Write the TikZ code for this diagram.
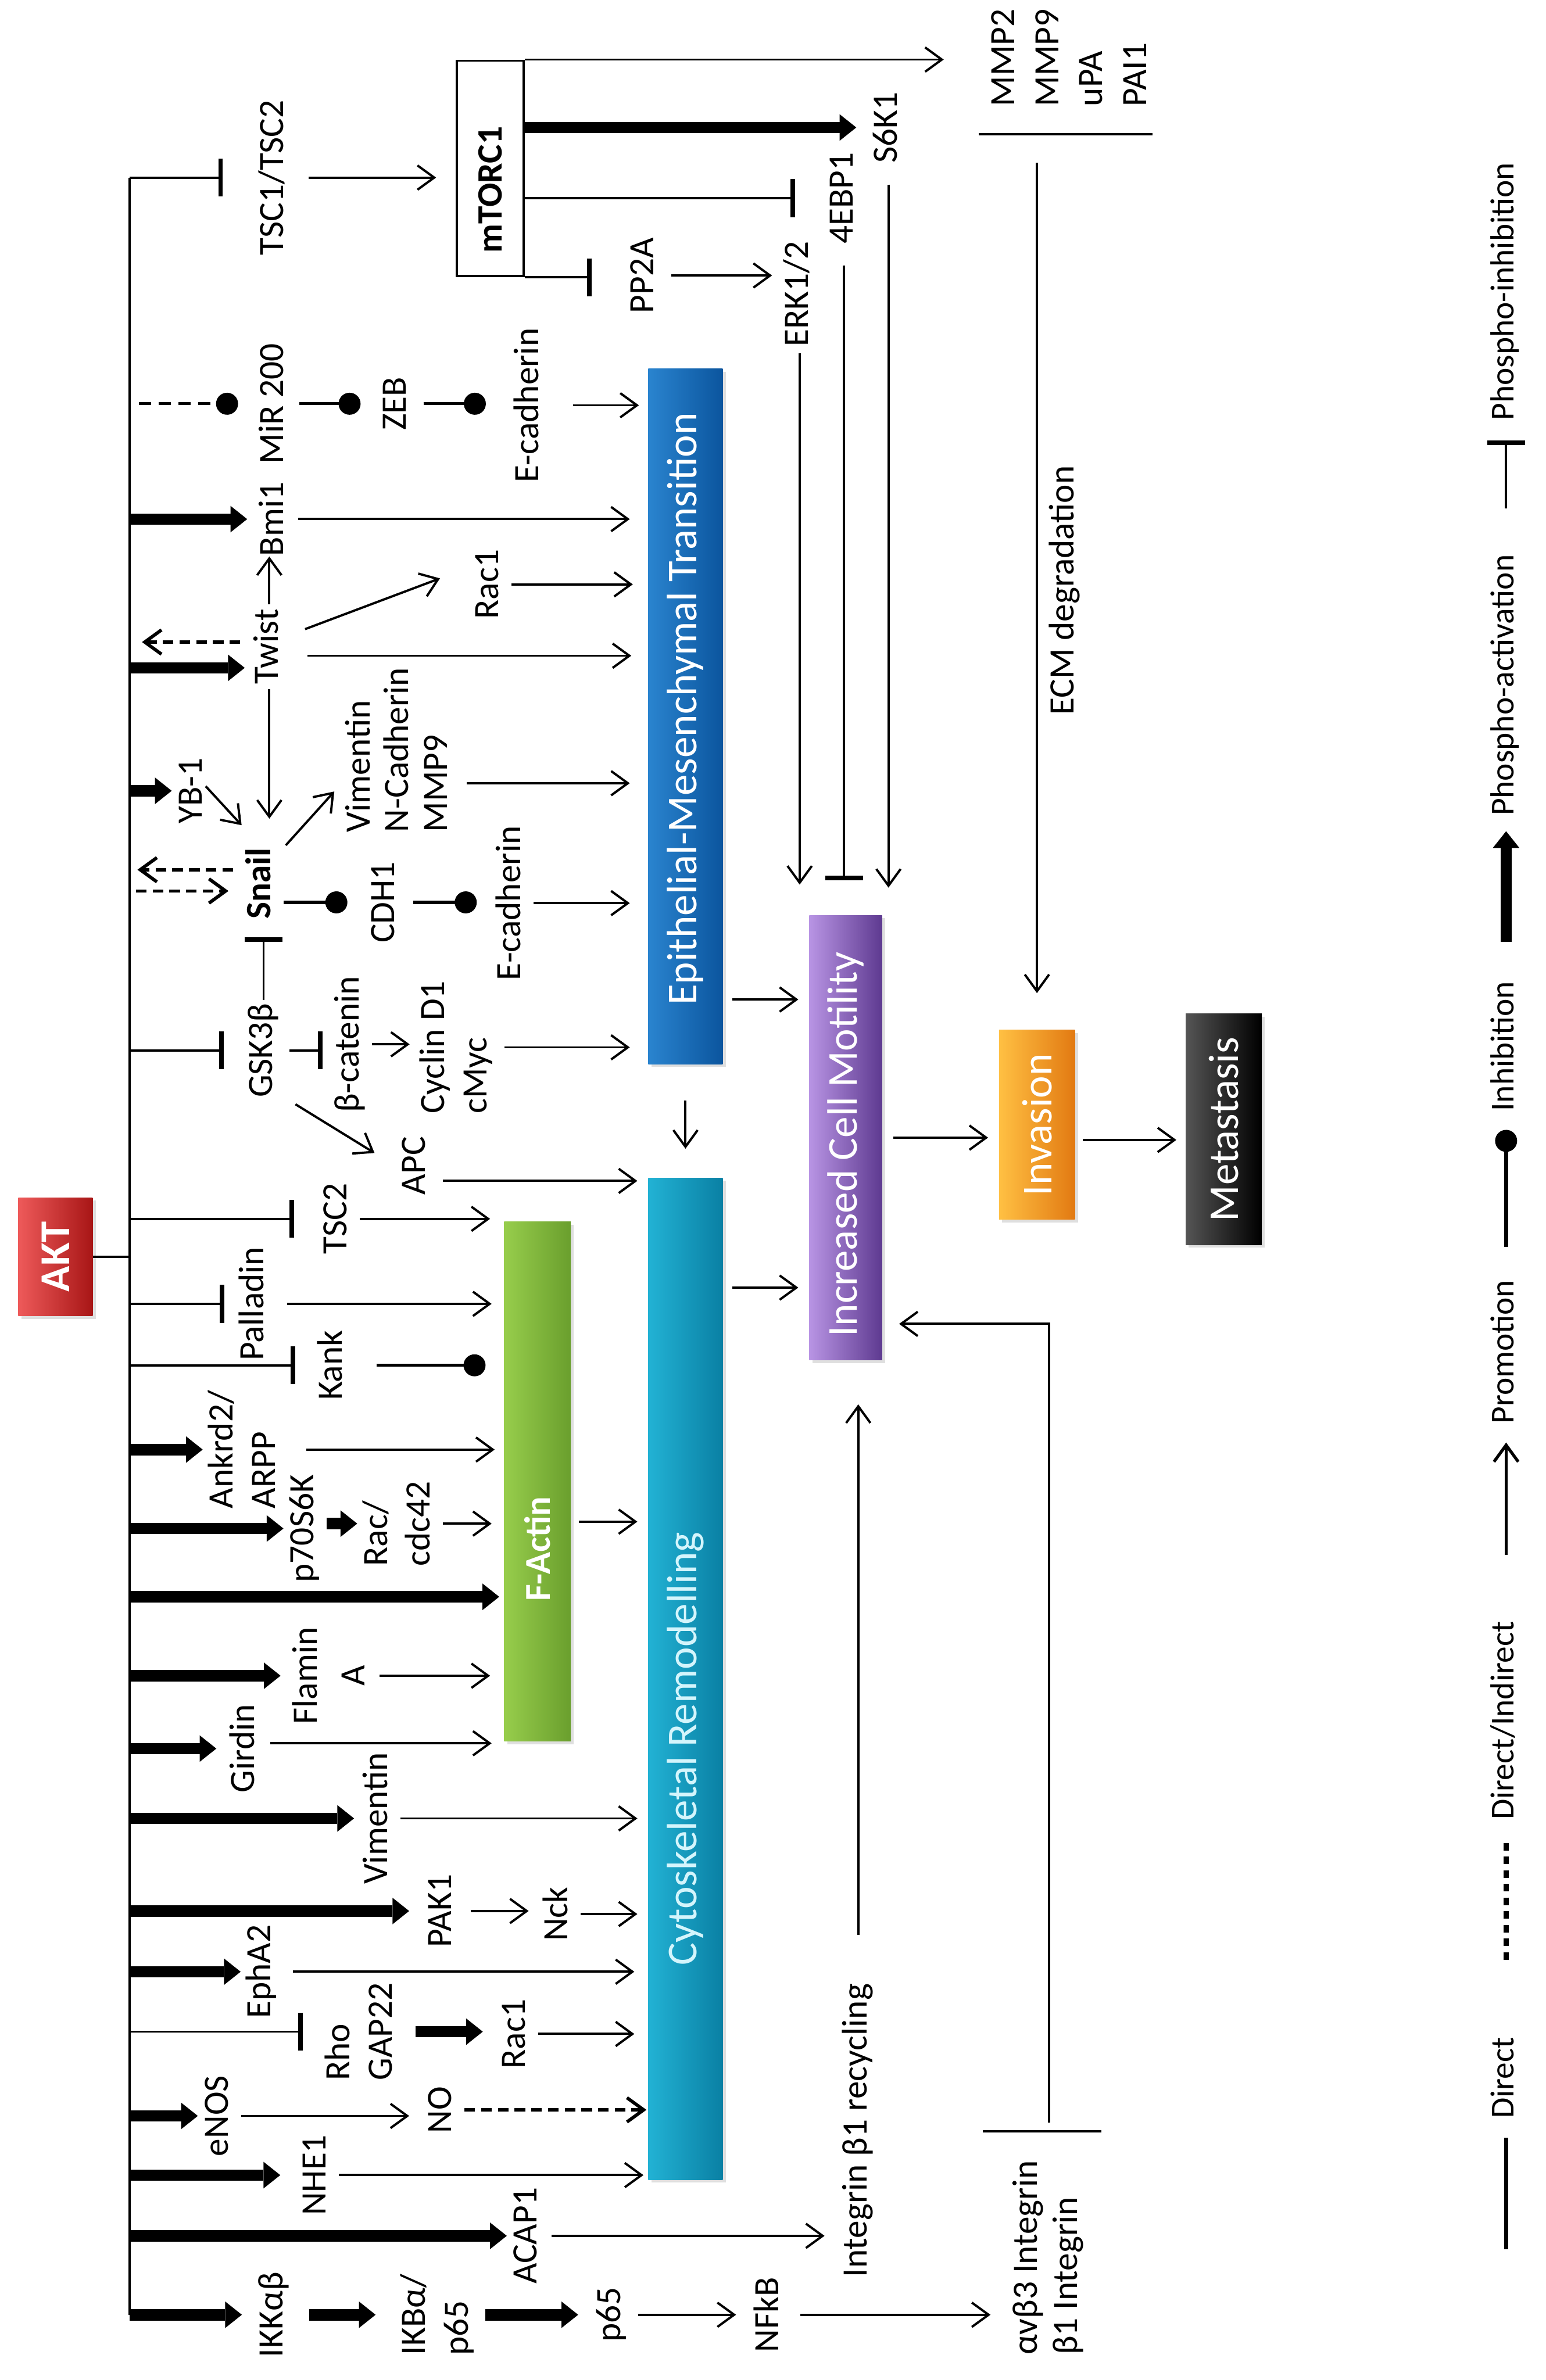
\documentclass[tikz,border=0pt]{standalone}
\usepackage{fontspec}
\usepackage{graphicx}
\usepackage{xcolor}
\setmainfont{Carlito}
\usetikzlibrary{arrows.meta, positioning, calc, shadows}

\definecolor{aktL}{HTML}{EE5A5A}
\definecolor{aktM}{HTML}{D62828}
\definecolor{aktR}{HTML}{A81616}
\definecolor{emtL}{HTML}{2A84CF}
\definecolor{emtM}{HTML}{1468B5}
\definecolor{emtR}{HTML}{0B559E}
\definecolor{cytL}{HTML}{22B2D4}
\definecolor{cytM}{HTML}{12A0C4}
\definecolor{cytR}{HTML}{0A80A4}
\definecolor{cytT}{HTML}{D4F5FC}
\definecolor{facL}{HTML}{97CD4C}
\definecolor{facM}{HTML}{86BE3C}
\definecolor{facR}{HTML}{6A9F2D}
\definecolor{motL}{HTML}{B894E4}
\definecolor{motM}{HTML}{7D53B5}
\definecolor{motR}{HTML}{5E3A90}
\definecolor{invL}{HTML}{FFC043}
\definecolor{invM}{HTML}{F8931F}
\definecolor{invR}{HTML}{E27A12}
\definecolor{metL}{HTML}{555555}
\definecolor{metM}{HTML}{0A0A0A}
\definecolor{metR}{HTML}{000000}

\newcommand{\lblfont}{\fontsize{23.5}{28}\selectfont}
\newcommand{\stagefont}{\fontsize{28}{32}\selectfont}
\newcommand{\legfont}{\fontsize{22}{26}\selectfont}
\newcommand{\uptext}[1]{\rotatebox{90}{\strut #1}}
\newcommand{\uplines}[2][l]{\rotatebox{90}{\begin{tabular}{@{}#1@{}}#2\end{tabular}}}

\tikzstyle{lbl} = [inner sep=0pt, font=\lblfont]
\tikzstyle{legtext} = [inner sep=0pt, font=\legfont]
\tikzstyle{stage} = [rectangle, inner sep=0pt, text=white, font=\stagefont, drop shadow={shadow xshift=2pt, shadow yshift=-2pt, opacity=0.25}]
\tikzstyle{conn} = [line width=1.5pt]
\tikzstyle{promo} = [line width=1.5pt, -{Straight Barb[length=11pt,width=16pt]}]
\tikzstyle{dpromo} = [line width=2.2pt, dash pattern=on 7pt off 4pt, -{Straight Barb[length=11pt,width=16pt]}]
\tikzstyle{phos} = [line width=7.5pt, -{Triangle[length=11pt,width=17.5pt,line width=0pt]}]
\tikzstyle{inh} = [line width=1.5pt, -{Bar[width=25pt,line width=3pt]}]
\tikzstyle{cinh} = [line width=2pt, -{Circle[length=14.5pt]}]
\tikzstyle{dcinh} = [cinh, dash pattern=on 8pt off 5pt]

\begin{document}
\begin{tikzpicture}[x=1pt, y=1pt]
    \useasboundingbox (0,0) rectangle (1018,-1568);

        % Nodes
        \node (akt) [stage, minimum width=49pt, minimum height=78pt, left color=aktL, middle color=aktM, right color=aktR, font=\stagefont\bfseries] at (36.5,-828) {\rotatebox{90}{AKT}};
        \node (tsc12) [lbl] at (181,-117) {\uptext{TSC1/TSC2}};
        \node (mtorc) [draw, line width=1.5pt, fill=white, inner sep=0pt, minimum width=44pt, minimum height=142pt, font=\lblfont\bfseries] at (323,-111) {\rotatebox{90}{\hspace*{-28pt}mTORC1}};
        \node (mmp) [lbl, font=\fontsize{23.5}{29}\selectfont] at (705.8,-38) {\uplines{MMP2\\MMP9\\uPA\\PAI1}};
        \node (s6k) [lbl] at (585.2,-84) {\uptext{S6K1}};
        \node (ebp) [lbl] at (556,-130.5) {\uptext{4EBP1}};
        \node (pp2a) [lbl] at (424.8,-181.5) {\uptext{PP2A}};
        \node (erk) [lbl] at (526.7,-193.7) {\uptext{ERK1/2}};
        \node (ecm) [lbl] at (701.7,-389) {\uptext{ECM degradation}};
        \node (mir) [lbl] at (181,-266) {\uptext{MiR 200}};
        \node (zeb) [lbl] at (261.7,-266) {\uptext{ZEB}};
        \node (ecad1) [lbl] at (349.2,-267) {\uptext{E-cadherin}};
        \node (bmi) [lbl] at (181,-342) {\uptext{Bmi1}};
        \node (rac1a) [lbl] at (322.7,-385) {\uptext{Rac1}};
        \node (twist) [lbl] at (177.4,-426) {\uptext{Twist}};
        \node (yb1) [lbl] at (127.3,-521) {\uptext{YB-1}};
        \node (snail) [lbl, font=\lblfont\bfseries] at (172.7,-582) {\uptext{Snail}};
        \node (vimb) [lbl, font=\fontsize{23.5}{25.5}\selectfont] at (264,-494) {\uplines{Vimentin\\N-Cadherin\\MMP9}};
        \node (cdh1) [lbl] at (254,-594.5) {\uptext{CDH1}};
        \node (ecad2) [lbl] at (337.2,-595) {\uptext{E-cadherin}};
        \node (gsk) [lbl] at (173.6,-692) {\uptext{GSK3β}};
        \node (bcat) [lbl] at (230.7,-688) {\uptext{β-catenin}};
        \node (cyc) [lbl] at (301,-690) {\uplines{Cyclin D1\\cMyc}};
        \node (apc) [lbl] at (274.5,-768) {\uptext{APC}};
        \node (tsc2) [lbl] at (222.8,-803) {\uptext{TSC2}};
        \node (pall) [lbl] at (168,-859) {\uptext{Palladin}};
        \node (kank) [lbl] at (219.7,-899.5) {\uptext{Kank}};
        \node (ankrd) [lbl] at (161.7,-955) {\uplines{Ankrd2/\\ARPP}};
        \node (p70) [lbl] at (200.9,-1007) {\uptext{p70S6K}};
        \node (racc) [lbl] at (263.5,-1003.8) {\uplines{Rac/\\cdc42}};
        \node (flam) [lbl, font=\fontsize{23.5}{31.4}\selectfont] at (218.4,-1104) {\uplines[c]{Flamin\\A}};
        \node (gird) [lbl] at (161.7,-1152) {\uptext{Girdin}};
        \node (vim2) [lbl] at (249.4,-1198) {\uptext{Vimentin}};
        \node (pak) [lbl] at (291.7,-1259) {\uptext{PAK1}};
        \node (nck) [lbl] at (368.4,-1261) {\uptext{Nck}};
        \node (epha) [lbl] at (172.7,-1299) {\uptext{EphA2}};
        \node (rhog) [lbl] at (238.5,-1338.5) {\uplines{Rho\\GAP22}};
        \node (rac1b) [lbl] at (340.2,-1340) {\uptext{Rac1}};
        \node (enos) [lbl] at (144.5,-1394) {\uptext{eNOS}};
        \node (nox) [lbl] at (291.7,-1390) {\uptext{NO}};
        \node (nhe) [lbl] at (208.8,-1433) {\uptext{NHE1}};
        \node (acap) [lbl] at (348,-1473) {\uptext{ACAP1}};
        \node (intr) [lbl] at (565.3,-1403.6) {\uptext{Integrin β1 recycling}};
        \node (ikk) [lbl] at (180.5,-1525) {\uptext{IKKαβ}};
        \node (ikb) [lbl] at (288.6,-1525) {\uplines{IKBα/\\p65}};
        \node (p65) [lbl] at (403,-1525) {\uptext{p65}};
        \node (nfkb) [lbl] at (507,-1525) {\uptext{NFkB}};
        \node (integ) [lbl, font=\fontsize{23.5}{26.4}\selectfont] at (691,-1487.5) {\uplines{αvβ3 Integrin\\β1 Integrin}};

        % Stages
        \node (emt) [stage, minimum width=49pt, minimum height=458pt, left color=emtL, middle color=emtM, right color=emtR] at (451.5,-472) {\rotatebox{90}{\hspace*{10pt}Epithelial-Mesenchymal Transition}};
        \node (cyto) [stage, minimum width=49pt, minimum height=660pt, left color=cytL, middle color=cytM, right color=cytR, text=cytT] at (451.5,-1106) {\rotatebox{90}{\hspace*{-92pt}Cytoskeletal Remodelling}};
        \node (factin) [stage, minimum width=44pt, minimum height=342pt, left color=facL, middle color=facM, right color=facR, font=\fontsize{24}{28}\selectfont\bfseries] at (354,-976) {\rotatebox{90}{\hspace*{-79pt}F-Actin}};
        \node (motil) [stage, minimum width=48pt, minimum height=293pt, left color=motL, middle color=motM, right color=motR] at (557,-749.5) {\rotatebox{90}{\hspace*{-9pt}Increased Cell Motility}};
        \node (invasion) [stage, minimum width=50pt, minimum height=125pt, left color=invL, middle color=invM, right color=invR] at (683,-741) {\rotatebox{90}{Invasion}};
        \node (metast) [stage, minimum width=50pt, minimum height=152pt, left color=metL, middle color=metM, right color=metR] at (806,-744) {\rotatebox{90}{Metastasis}};

        % Legend
        \node (lgpi) [legtext] at (992,-192) {\uptext{Phospho-inhibition}};
        \node (lgpa) [legtext] at (992,-451.4) {\uptext{Phospho-activation}};
        \node (lginh) [legtext] at (992,-689.3) {\uptext{Inhibition}};
        \node (lgpro) [legtext] at (992,-890.7) {\uptext{Promotion}};
        \node (lgdi) [legtext] at (992,-1133.5) {\uptext{Direct/Indirect}};
        \node (lgd) [legtext] at (992,-1368.9) {\uptext{Direct}};

        % AKT branch line
        \coordinate (bus) at (85.5,0);
        \draw [conn] (akt) -- (akt -| bus);
        \draw [conn] (bus |- tsc12) -- (bus |- ikk);

        % Arrows from AKT
        \draw [inh, shorten >=20pt] (bus |- tsc12) -- (tsc12);
        \draw [dcinh, shorten <=6pt, shorten >=10pt] (bus |- mir) -- (mir);
        \draw [phos, shorten >=4pt] (bus |- bmi) -- (bmi);
        \draw [phos, shorten >=2pt] ([yshift=-14pt]bus |- twist) -- ([yshift=-14pt]twist.west);
        \draw [dpromo, shorten <=5pt, shorten >=8pt] ([yshift=3pt]twist.west) -- ([yshift=3pt]twist.west -| bus);
        \draw [phos] (bus |- yb1) -- (yb1);
        \draw [dpromo, shorten <=4pt, shorten >=8pt] ([yshift=-5pt]bus |- snail) -- ([yshift=-5pt]snail.west);
        \draw [dpromo, shorten <=5pt, shorten >=5pt] ([yshift=9pt]snail.west) -- ([yshift=9pt]snail.west -| bus);
        \draw [inh, shorten >=12pt] (bus |- gsk) -- (gsk);
        \draw [inh, shorten >=15pt] (bus |- tsc2) -- (tsc2);
        \draw [inh, shorten >=6pt] (bus |- pall) -- (pall);
        \draw [inh, shorten >=11pt] (bus |- kank) -- (kank);
        \draw [phos] (bus |- ankrd) -- (ankrd);
        \draw [phos] (bus |- p70) -- (p70);
        \draw [phos, shorten >=3pt] ([yshift=-76pt]factin.west -| bus) -- ([yshift=-76pt]factin.west);
        \draw [phos, shorten >=2pt] (bus |- flam) -- (flam);
        \draw [phos, shorten >=5pt] (bus |- gird) -- (gird);
        \draw [phos, shorten >=2pt] (bus |- vim2) -- (vim2);
        \draw [phos, shorten >=8pt] (bus |- pak) -- (pak);
        \draw [phos] (bus |- epha) -- (epha);
        \draw [inh, shorten >=11pt] (bus |- rhog) -- (rhog);
        \draw [phos] (bus |- enos) -- (enos);
        \draw [phos, shorten >=10pt] (bus |- nhe) -- (nhe);
        \draw [phos] (bus |- acap) -- (acap);
        \draw [phos, shorten >=7pt] (bus |- ikk) -- (ikk);

        % mTORC1 arm
        \draw [promo, shorten <=8pt, shorten >=13pt] (tsc12) -- (tsc12 -| mtorc.west);
        \draw [promo, shorten >=26pt] (mtorc.north east) -- (mtorc.north east -| mmp.west);
        \draw [phos, shorten >=7pt] (mtorc.east |- s6k) -- (s6k);
        \draw [inh, shorten >=18pt] (mtorc.east |- ebp) -- (ebp);
        \draw [inh, shorten >=21pt] (mtorc.south east) -- (mtorc.south east -| pp2a.west);
        \draw [promo, shorten <=3pt, shorten >=4pt] (pp2a) -- (pp2a -| erk.west);
        \draw [promo, shorten <=4pt, shorten >=20pt] (erk.south) -- (erk.south |- motil.north);
        \draw [inh, shorten <=14pt, shorten >=23pt] (ebp.south) -- (ebp.south |- motil.north);
        \draw [promo, shorten <=14pt, shorten >=18pt] (s6k.south) -- (s6k.south |- motil.north);
        \draw [promo, shorten <=37pt, shorten >=24pt] (invasion |- mmp.south) -- (invasion);
        \draw [conn] ($(mmp.south west)+(-3,-18)$) -- ($(mmp.south east)+(-5,-18)$);

        % EMT inputs
        \draw [cinh, shorten <=2pt, shorten >=10pt] (mir) -- (mir -| zeb.west);
        \draw [cinh, shorten <=3pt, shorten >=15pt] (zeb) -- (zeb -| ecad1.west);
        \draw [promo, shorten <=14pt, shorten >=6pt] (ecad1) -- (ecad1 -| emt.west);
        \draw [promo, shorten <=1pt, shorten >=12pt] (bmi) -- (bmi -| emt.west);
        \draw [promo, shorten <=3pt] (twist.north) -- (twist.north |- bmi.south);
        \draw [promo, shorten <=10pt, shorten >=20pt] ([yshift=8pt]twist.east) -- ([yshift=11pt]rac1a.west);
        \draw [promo, shorten >=10pt] (rac1a) -- (rac1a -| emt.west);
        \draw [promo, shorten <=11pt, shorten >=11pt] ([yshift=-6pt]twist.east) -- ([yshift=-6pt]twist.east -| emt.west);
        \draw [promo, shorten <=3pt, shorten >=19pt] (twist.south) -- (twist.south |- snail.north);
        \draw [promo, shorten >=20pt] ([xshift=-6pt,yshift=3pt]yb1.east) -- (snail.north);
        \draw [promo, shorten <=2pt, shorten >=8pt] (snail.north east) -- ([yshift=-21.5pt]vimb.west);
        \draw [promo, shorten <=5pt, shorten >=12pt] ([yshift=-22pt]vimb.east) -- ([yshift=-22pt]vimb.east -| emt.west);
        \draw [cinh, shorten >=11pt] (snail.east |- cdh1) -- (cdh1);
        \draw [cinh, shorten <=4pt, shorten >=9pt] (cdh1) -- (cdh1 -| ecad2.west);
        \draw [promo, shorten >=12pt] (ecad2) -- (ecad2 -| emt.west);
        \draw [inh, shorten <=2pt, shorten >=12pt] (gsk.north) -- (gsk.north |- snail.south);
        \draw [inh, shorten <=3pt, shorten >=4pt] (gsk) -- (gsk -| bcat.west);
        \draw [promo, shorten >=3pt] (bcat) -- (bcat -| cyc.west);
        \draw [promo, shorten <=3pt, shorten >=12pt] (cyc) -- (cyc -| emt.west);
        \draw [promo, shorten <=8pt, shorten >=16pt] (gsk.south east) -- (apc.west);
        \draw [promo, shorten <=3pt, shorten >=7pt] ([yshift=-10pt]apc.east) -- ([yshift=-10pt]apc.east -| cyto.west);

        % F-Actin inputs
        \draw [promo, shorten >=9pt] (tsc2) -- (tsc2 -| factin.west);
        \draw [promo, shorten <=7pt, shorten >=8pt] (pall) -- (pall -| factin.west);
        \draw [cinh, shorten <=14pt, shorten >=12pt] (kank) -- (kank -| factin.west);
        \draw [promo, shorten <=12pt, shorten >=6pt] (ankrd) -- (ankrd -| factin.west);
        \draw [phos] (racc -| p70.east) -- (racc.west);
        \draw [promo, shorten >=8pt] (racc) -- (racc -| factin.west);
        \draw [promo, shorten >=9pt] (flam) -- (flam -| factin.west);
        \draw [promo, shorten <=2pt, shorten >=8pt] ([yshift=3.5pt]gird.east) -- ([yshift=3.5pt]gird.east -| factin.west);

        % Cytoskeletal inputs
        \draw [promo, shorten >=7pt] (vim2) -- (vim2 -| cyto.west);
        \draw [promo, shorten <=4pt, shorten >=6pt] (pak) -- (pak -| nck.west);
        \draw [promo, shorten >=7pt] (nck) -- (nck -| cyto.west);
        \draw [promo, shorten <=6pt, shorten >=9pt] (epha) -- (epha -| cyto.west);
        \draw [phos, shorten <=7pt, shorten >=8pt] (rhog) -- (rhog -| rac1b.west);
        \draw [promo, shorten >=9pt] (rac1b) -- (rac1b -| cyto.west);
        \draw [promo, shorten >=8pt] (enos) -- (enos -| nox.west);
        \draw [dpromo, shorten >=1pt] (nox) -- (nox -| cyto.west);
        \draw [promo, shorten >=3pt] (nhe) -- (nhe -| cyto.west);
        \draw [promo, shorten <=1pt, shorten >=8pt] (acap) -- (acap -| intr.west);
        \draw [promo, shorten <=32pt, shorten >=29pt] (intr.north) -- (intr.north |- motil.south);
        \draw [phos, shorten <=9pt, shorten >=13pt] (ikk) -- (ikk -| ikb.west);
        \draw [phos, shorten <=3pt, shorten >=8pt] (ikb) -- (ikb -| p65.west);
        \draw [promo, shorten <=3pt, shorten >=8pt] (p65) -- (p65 -| nfkb.west);
        \draw [promo, shorten <=6pt, shorten >=12pt] (nfkb) -- (nfkb -| integ.west);
        \draw [promo, shorten <=25pt, shorten >=11pt] (integ.north) |- ([yshift=-122.7pt]motil.east);
        \draw [conn] ($(integ.north west)+(-17,19)$) -- ($(integ.north east)+(8,19)$);

        % Stage to stage
        \draw [promo, shorten <=24pt, shorten >=19pt] (emt.south) -- (emt.south |- cyto.north);
        \draw [promo, shorten <=6pt, shorten >=7pt] ([yshift=-186.5pt]emt.east) -- ([yshift=-186.5pt]emt.east -| motil.west);
        \draw [promo, shorten <=6pt, shorten >=7pt] ([yshift=257.7pt]cyto.east) -- ([yshift=257.7pt]cyto.east -| motil.west);
        \draw [promo, shorten <=5pt, shorten >=7pt] ([yshift=-26.5pt]factin.east) -- ([yshift=-26.5pt]factin.east -| cyto.west);
        \draw [promo, shorten <=7pt, shorten >=7pt] (motil) -- (motil -| invasion.west);
        \draw [promo, shorten <=5pt, shorten >=6pt] ([yshift=-10pt]invasion.east) -- ([yshift=-10pt]invasion.east -| metast.west);

        % Legend symbols
        \draw [inh, shorten >=13pt] ([yshift=-58pt]lgpi.south) -- (lgpi.south);
        \draw [phos, shorten >=10pt] ([yshift=-83pt]lgpa.south) -- (lgpa.south);
        \draw [cinh, line width=2.5pt, shorten >=12pt] ([yshift=-89pt]lginh.south) -- (lginh.south);
        \draw [promo, line width=2pt, shorten >=12pt] ([yshift=-86pt]lgpro.south) -- (lgpro.south);
        \draw [line width=3.5pt, dash pattern=on 5pt off 4pt, shorten <=15pt] (lgdi.south) -- ([yshift=-94pt]lgdi.south);
        \draw [line width=2.5pt, shorten <=12.6pt] (lgd.south) -- ([yshift=-86pt]lgd.south);

    \end{tikzpicture}
\end{document}
